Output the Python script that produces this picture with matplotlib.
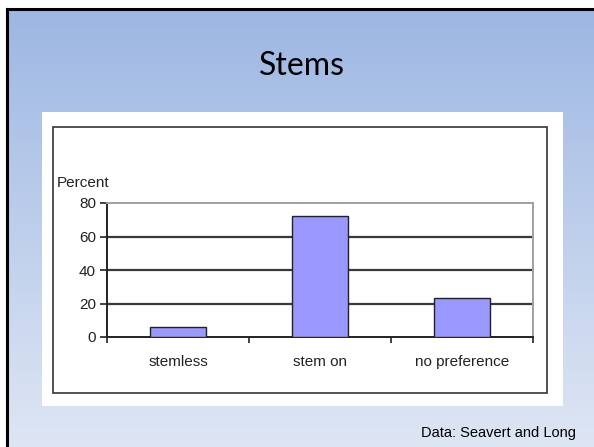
import numpy as np
import matplotlib
matplotlib.use("Agg")
import matplotlib.pyplot as plt
from matplotlib.patches import Rectangle
from matplotlib.lines import Line2D

categories = ["stemless", "stem on", "no preference"]
percent = [6, 72, 23]
y_ticks = [0, 20, 40, 60, 80]

W, H = 594, 447
fig = plt.figure(figsize=(W / 100, H / 100), dpi=100)
fig.patch.set_facecolor("white")

def fx(px):
    return px / W

def fy(py):
    return 1 - py / H

# slide background gradient
bg = fig.add_axes([fx(7), 0, 1 - fx(7), fy(9)])
bg.set_zorder(-5)
bg.set_axis_off()
top = np.array([157, 183, 227]) / 255
bot = np.array([222, 230, 244]) / 255
t = np.linspace(0, 1, 256)[:, None]
grad = (top[None, :] * (1 - t) + bot[None, :] * t)[:, None, :]
bg.imshow(grad, aspect="auto", extent=[0, 1, 0, 1])

# slide border (left and top)
fig.add_artist(Line2D([fx(7), fx(7)], [0, fy(9)], color="black", lw=2.2))
fig.add_artist(Line2D([fx(7), 1], [fy(9), fy(9)], color="black", lw=2.2))

# title
fig.text(fx(302), fy(66), "Stems", ha="center", va="center",
         fontsize=23, family="Lato", color="black")

# white chart box
fig.add_artist(Rectangle((fx(42), fy(406)), fx(563 - 42), (406 - 112) / H,
                         transform=fig.transFigure, facecolor="white",
                         edgecolor="none", zorder=1))
# chart border
fig.add_artist(Rectangle((fx(53), fy(393)), fx(547 - 53), (393 - 127) / H,
                         transform=fig.transFigure, facecolor="none",
                         edgecolor="#333333", lw=1.2, zorder=2))

txt = "#222222"

# plot area
ax = fig.add_axes([fx(107), fy(337), fx(533 - 107), (337 - 203) / H])
ax.set_zorder(5)
ax.set_facecolor("white")
x = np.arange(len(categories))
ax.bar(x, percent, width=0.4, color="#9999ff", edgecolor="#222222", lw=1.0,
       zorder=3)
ax.set_xlim(-0.5, 2.5)
ax.set_ylim(0, 80)
ax.set_yticks(y_ticks)
ax.set_yticklabels([str(v) for v in y_ticks], family="Liberation Sans",
                   fontsize=11, color=txt)
for v in y_ticks[1:-1]:
    ax.axhline(v, color="#3a3a3a", lw=1.6, zorder=1)

ax.set_xticks(x)
ax.set_xticklabels(categories, family="Liberation Sans", fontsize=11,
                   color=txt)
ax.tick_params(axis="x", length=0, pad=13)
ax.set_xticks([-0.5, 0.5, 1.5, 2.5], minor=True)
ax.tick_params(axis="x", which="minor", length=4, width=1.2, color="#222222")
ax.tick_params(axis="y", length=5, width=1.2, color="#222222", pad=3)

for s in ["top", "right"]:
    ax.spines[s].set_color("#a0a0a0")
    ax.spines[s].set_linewidth(1.4)
for s in ["left", "bottom"]:
    ax.spines[s].set_color("#222222")
    ax.spines[s].set_linewidth(1.4)

fig.text(fx(57), fy(183), "Percent", ha="left", va="center",
         family="Liberation Sans", fontsize=11, color=txt, zorder=6)

fig.text(fx(576), fy(433), "Data: Seavert and Long", ha="right",
         va="center", family="Liberation Sans", fontsize=10.5)

fig.savefig("out.png", dpi=100)
